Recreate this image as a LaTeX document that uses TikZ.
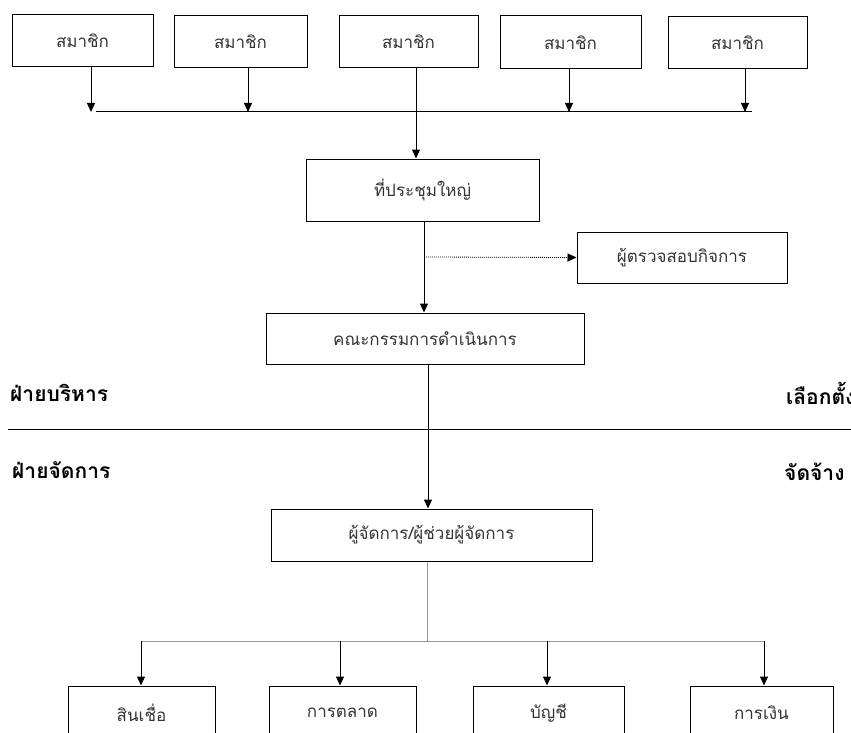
\documentclass[tikz,border=0pt]{standalone}
\usepackage{fontspec}
\setmainfont[Script=Thai]{Loma}
\usepackage{xcolor}
\usetikzlibrary{arrows.meta,positioning}

\tikzset{
        box/.style 2 args={draw, line width=1pt, minimum width=#1, minimum height=#2, inner sep=0pt,
                font=\fontsize{17}{20}\selectfont, text=black!80},
        side/.style={anchor=west, inner sep=0pt, font=\fontsize{21}{24}\selectfont\bfseries},
        line/.style={line width=1pt},
        arr/.style={line width=1pt, -{Triangle[length=9pt,width=8pt]}},
        grayline/.style={line width=1pt, black!40},
        dots/.style={line width=0.8pt, dash pattern=on 1pt off 1pt, -{Triangle[length=9pt,width=8pt]}}
}

\begin{document}
\begin{tikzpicture}[x=1pt,y=-1pt]
        \useasboundingbox (0,0) rectangle (851,733);
        \node[box={141}{52}] (m1) at (82.5,41) {สมาชิก};
        \node[box={133}{52}] (m2) at (240.5,42) {สมาชิก};
        \node[box={139}{52}] (m3) at (408.5,42) {สมาชิก};
        \node[box={141}{53}] (m4) at (570.5,42.5) {สมาชิก};
        \node[box={139}{52}] (m5) at (737.5,43) {สมาชิก};
        \node[box={233}{62}] (meet) at (422.5,190) {ที่ประชุมใหญ่};
        \node[box={210}{51}] (audit) at (682,257.5) {ผู้ตรวจสอบกิจการ};
        \node[box={318}{51}] (board) at (425,338.5) {คณะกรรมการดำเนินการ};
        \node[box={321}{52}] (mgr) at (431.5,535) {ผู้จัดการ/ผู้ช่วยผู้จัดการ};
        \node[box={147}{54}] (credit) at (141.5,713) {สินเชื่อ};
        \node[box={147}{54}] (market) at (342.5,713) {การตลาด};
        \node[box={151}{54}] (acct) at (548.5,713) {บัญชี};
        \node[box={143}{54}] (fin) at (761.5,713) {การเงิน};
        \node[side] (exec) at (10,393) {ฝ่ายบริหาร};
        \node[side] (elect) at (786,393) {เลือกตั้ง};
        \node[side] (manage) at (12,470) {ฝ่ายจัดการ};
        \node[side] (hire) at (784,472) {จัดจ้าง};
        \coordinate (b1) at (91,112);
        \coordinate (b2) at (248,112);
        \coordinate (b4) at (569,112);
        \coordinate (b5) at (745,112);
        \coordinate (busL) at (96,112);
        \coordinate (busR) at (752,112);
        \coordinate (v3) at (416,112);
        \coordinate (v4) at (424,257);
        \coordinate (v5) at (428,429);
        \coordinate (sepL) at (8,429);
        \coordinate (sepR) at (851,429);
        \coordinate (g0) at (427,641);
        \coordinate (gL) at (141,641);
        \coordinate (g2) at (340,641);
        \coordinate (g3) at (547,641);
        \coordinate (gR) at (764,641);
        \draw[line] (busL) -- (busR);
        \draw[arr] (m1.south -| b1) -- (b1);
        \draw[arr] (m2.south -| b2) -- (b2);
        \draw[arr] (m4.south -| b4) -- (b4);
        \draw[arr] (m5.south -| b5) -- (b5);
        \draw[arr] (m3.south -| v3) -- (meet.north -| v3);
        \draw[arr] (meet.south -| v4) -- (board.north -| v4);
        \draw[dots] (v4) -- (audit.west);
        \draw[line] (sepL) -- (sepR);
        \draw[arr] (board.south -| v5) -- (mgr.north -| v5);
        \draw[grayline] (mgr.south -| g0) -- (g0);
        \draw[grayline] (gL) -- (gR);
        \draw[arr] (gL) -- (credit.north -| gL);
        \draw[arr] (g2) -- (market.north -| g2);
        \draw[arr] (g3) -- (acct.north -| g3);
        \draw[arr] (gR) -- (fin.north -| gR);
\end{tikzpicture}
\end{document}
